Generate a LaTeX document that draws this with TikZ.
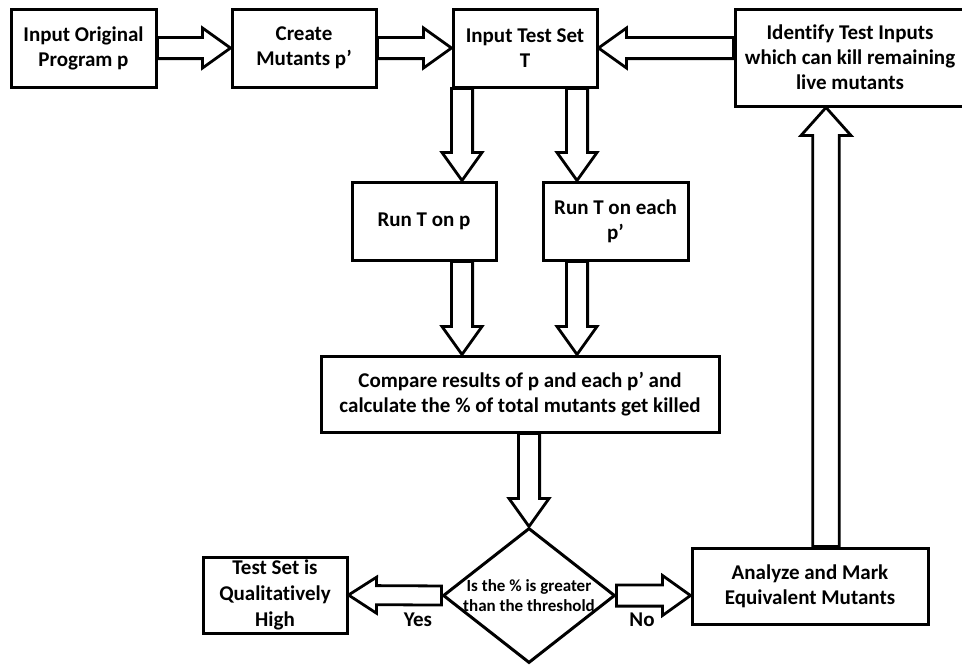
\documentclass[tikz,border=0pt]{standalone}
\usepackage{fontspec}
\setmainfont{Carlito}[Ligatures=NoCommon]
\usetikzlibrary{calc,shapes.geometric}

\tikzset{
  box/.style={draw=black, line width=1.5pt, fill=white, align=center, inner sep=1pt,
    font=\fontsize{10.5}{12.5}\selectfont\bfseries},
  decision/.style={draw=black, line width=1.5pt, fill=white, diamond, aspect=1.274, align=center, inner sep=0pt,
    minimum width=86pt, minimum height=67.5pt, font=\fontsize{8.5}{9.8}\selectfont\bfseries},
  arrowline/.style={draw=black, fill=white, line width=1.4pt},
  tag/.style={font=\fontsize{10.5}{12.5}\selectfont\bfseries}
}

% fat hollow arrow from #2 to #3, #1 scales its width
\newcommand{\fatarrow}[3][1]{%
  \coordinate (fa) at #2;
  \coordinate (fb) at #3;
  \coordinate (fc) at ($(fb)!14pt!(fa)$);
  \filldraw[arrowline] ($(fa)!#1*5.3pt!90:(fb)$) -- ($(fc)!#1*5.3pt!90:(fb)$)
    -- ($(fc)!#1*10pt!90:(fb)$) -- (fb) -- ($(fc)!#1*10pt!-90:(fb)$)
    -- ($(fc)!#1*5.3pt!-90:(fb)$) -- ($(fa)!#1*5.3pt!-90:(fb)$) -- cycle;
}

\begin{document}
\begin{tikzpicture}[x=0.5pt, y=-0.5pt]
  \useasboundingbox (0,0) rectangle (962,665);

  \node[box, minimum width=72.5pt, minimum height=39pt] (orig) at (83.5,48) {Input Original\\Program p};
  \node[box, minimum width=72pt, minimum height=39pt] (mut) at (304,48) {Create\\Mutants p’};
  \node[box, minimum width=72pt, minimum height=39pt] (test) at (525,48) {Input Test Set\\T};
  \node[box, minimum width=115pt, minimum height=48.5pt] (ident) at (850,57.5) {Identify Test Inputs\\which can kill remaining\\live mutants};
  \node[box, minimum width=72pt, minimum height=39pt] (runp) at (424,221) {Run T on p};
  \node[box, minimum width=72.5pt, minimum height=39pt] (rune) at (615.5,221) {Run T on each\\p’};
  \node[box, minimum width=199pt, minimum height=38pt] (comp) at (520,394) {Compare results of p and each p’ and\\calculate the \% of total mutants get killed};
  \node[decision] (dec) at (529,595.5) {Is the \% is greater\\than the threshold};
  \node[box, minimum width=72pt, minimum height=38pt, inner sep=0pt, font=\fontsize{10.5}{13}\selectfont\bfseries] (high) at (275,595) {Test Set is\\Qualitatively\\High};
  \node[box, minimum width=118pt, minimum height=38pt] (anal) at (810,586) {Analyze and Mark\\Equivalent Mutants};

  \node[tag] (yes) at (418,620) {Yes};
  \node[tag] (no) at (642,620) {No};

  \coordinate (xl) at (462,0);
  \coordinate (xr) at (577,0);
  \coordinate (xu) at (826,0);

  \fatarrow{(orig.east)}{(mut.west)}
  \fatarrow{(mut.east)}{(test.west)}
  \fatarrow{(test.east -| ident.west)}{(test.east)}
  \fatarrow{(test.south -| xl)}{(runp.north -| xl)}
  \fatarrow{(test.south -| xr)}{(rune.north -| xr)}
  \fatarrow{(runp.south -| xl)}{(comp.north -| xl)}
  \fatarrow{(rune.south -| xr)}{(comp.north -| xr)}
  \fatarrow{(comp.south -| dec.north)}{(dec.north)}
  \fatarrow[0.9]{(dec.west)}{(high.east)}
  \fatarrow{(dec.east)}{(anal.west |- dec.east)}
  \fatarrow[1.25]{(anal.north -| xu)}{(ident.south -| xu)}
\end{tikzpicture}
\end{document}
